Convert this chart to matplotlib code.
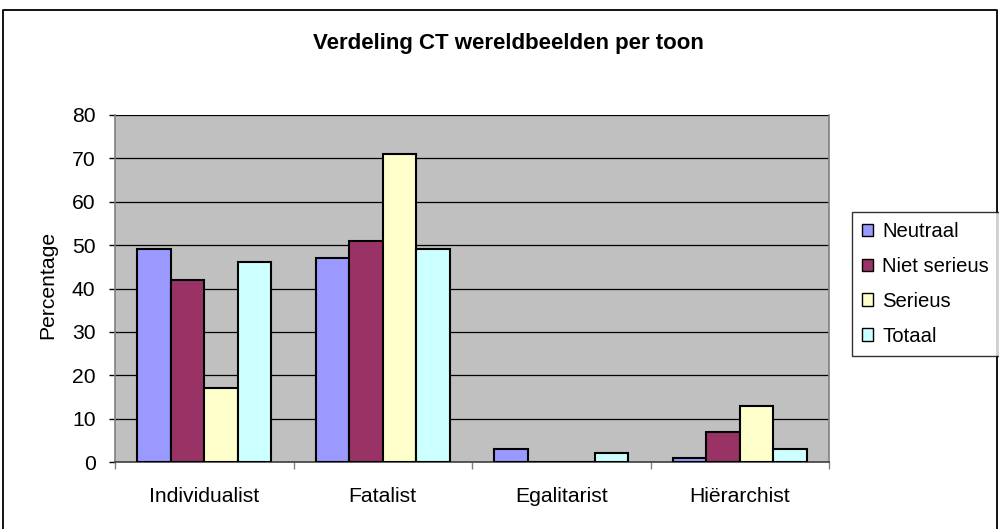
import matplotlib
matplotlib.use("Agg")
import matplotlib.pyplot as plt
import numpy as np
from matplotlib.lines import Line2D

categories = ["Individualist", "Fatalist", "Egalitarist", "Hiërarchist"]
series_names = ["Neutraal", "Niet serieus", "Serieus", "Totaal"]
neutraal = [49, 47, 3, 1]
niet_serieus = [42, 51, 0, 7]
serieus = [17, 71, 0, 13]
totaal = [46, 49, 2, 3]
values = [neutraal, niet_serieus, serieus, totaal]
colors = ["#9999FF", "#993366", "#FFFFCC", "#CCFFFF"]
yticks = [0, 10, 20, 30, 40, 50, 60, 70, 80]

plt.rcParams['font.family'] = ['Liberation Sans', 'DejaVu Sans']

W, H = 999, 529
fig = plt.figure(figsize=(W / 100, H / 100), dpi=100)
ax = fig.add_axes([115 / W, 1 - 462 / H, (829 - 115) / W, (462 - 115) / H])
ax.set_facecolor("#C0C0C0")

x = np.arange(len(categories))
bw = 0.1875
for i, (vals, col, name) in enumerate(zip(values, colors, series_names)):
    ax.bar(x + (i - 1.5) * bw, vals, width=bw, color=col, edgecolor="black",
           linewidth=1.5, label=name, zorder=3)

ax.set_xlim(-0.5, len(categories) - 0.5)
ax.set_ylim(0, 80)
ax.set_yticks(yticks)
ax.yaxis.grid(True, color="black", linewidth=0.9, zorder=1)
ax.set_axisbelow(True)

ax.set_xticks(x)
ax.set_xticklabels(categories, fontsize=15.2)
ax.set_xticks(np.arange(len(categories) + 1) - 0.5, minor=True)
ax.tick_params(axis="x", which="major", length=0, pad=18)
ax.tick_params(axis="x", which="minor", length=5, width=1, color="#808080", direction="out")
ax.tick_params(axis="y", length=4, width=1, pad=10, labelsize=15.2)

ax.spines["right"].set_color("#808080")
ax.spines["right"].set_linewidth(1.2)
ax.spines["left"].set_color("#808080")
ax.spines["left"].set_linewidth(1.2)
ax.spines["bottom"].set_color("#404040")
ax.spines["bottom"].set_linewidth(1.2)
ax.spines["top"].set_visible(False)

fig.text(48 / W, 1 - 285 / H, "Percentage", rotation=90, ha="center", va="center", fontsize=15.2)
fig.text(508 / W, 1 - 44 / H, "Verdeling CT wereldbeelden per toon", ha="center", va="center",
         fontsize=16, fontweight="bold")

# outer chart border
fig.add_artist(Line2D([3 / W, 3 / W, 997 / W, 997 / W], [0, 1 - 10 / H, 1 - 10 / H, 0],
                      transform=fig.transFigure, color="black", linewidth=1.3))

leg = fig.legend(loc="upper left", bbox_to_anchor=(852 / W, 1 - 212 / H), fontsize=14.6,
                 frameon=True, fancybox=False, edgecolor="black", borderaxespad=0,
                 handlelength=0.55, handleheight=0.55, handletextpad=0.45,
                 labelspacing=0.78, borderpad=0.5)
leg.get_frame().set_linewidth(1.0)
for h in leg.legend_handles:
    h.set_linewidth(1.0)

fig.savefig("out.png", dpi=100)
